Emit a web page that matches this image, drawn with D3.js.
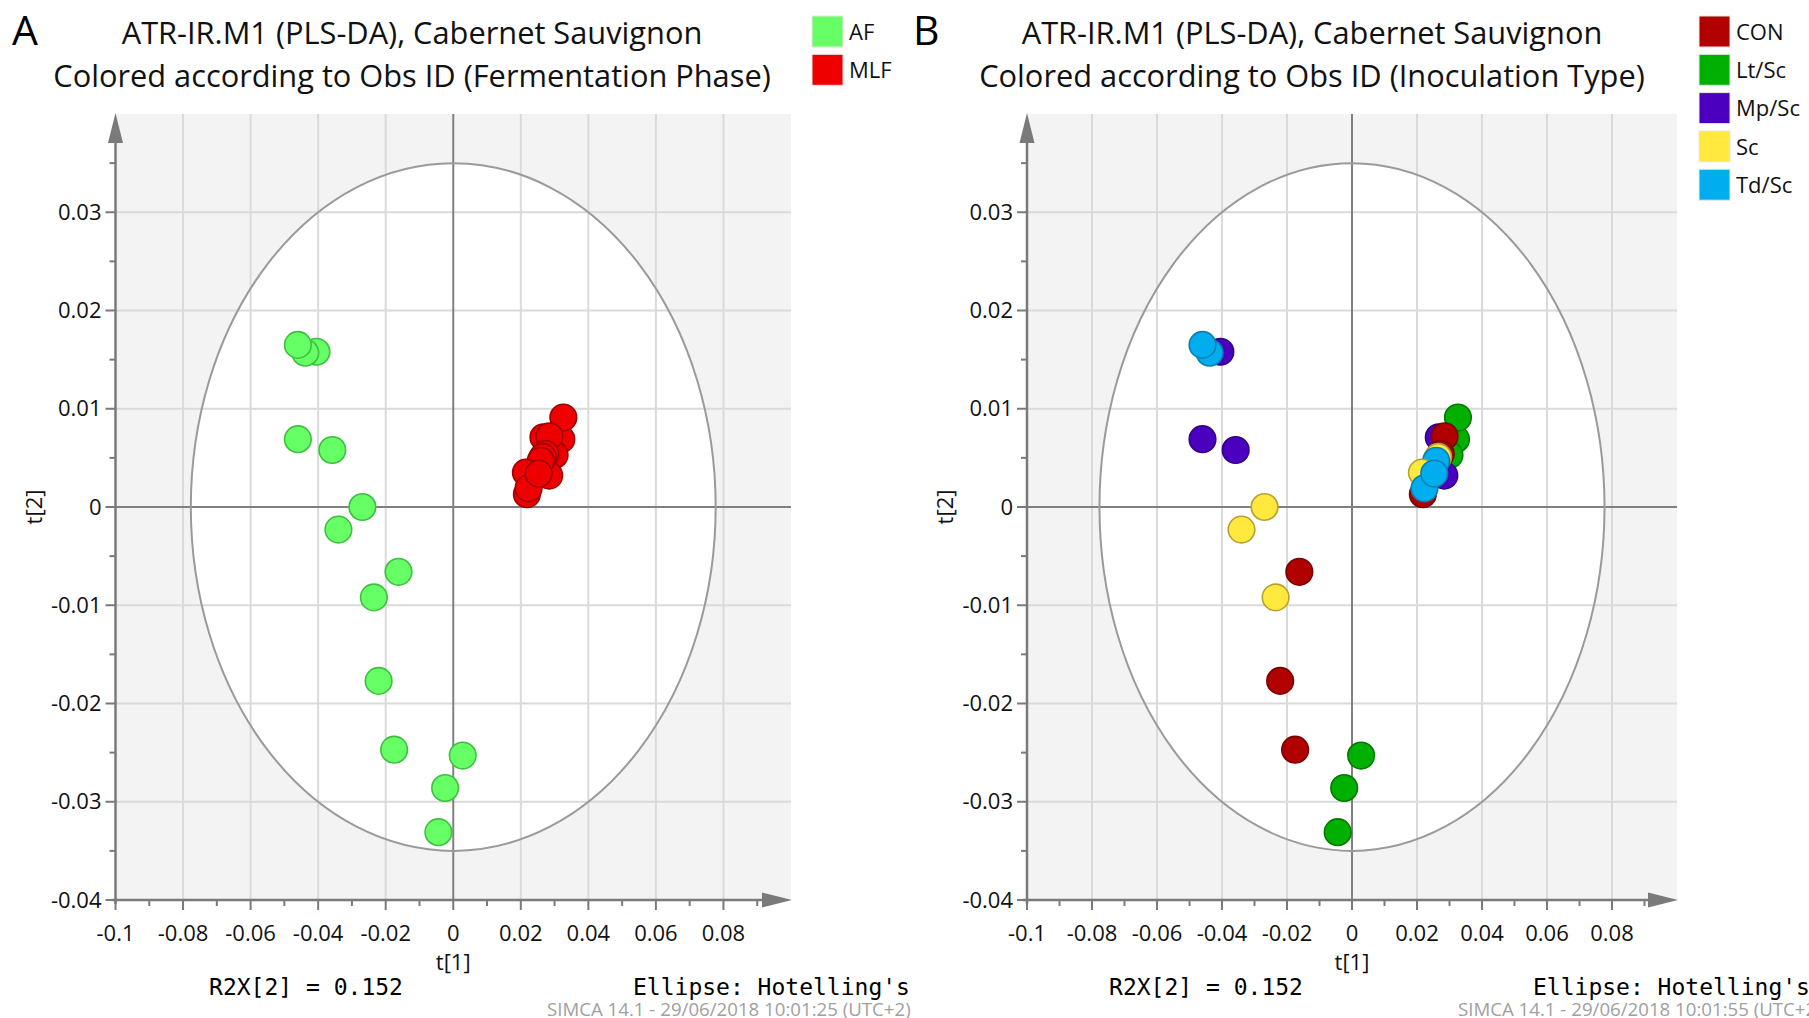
<!DOCTYPE html>
<html>
<head>
<meta charset="utf-8">
<script src="https://cdn.jsdelivr.net/npm/d3@7/dist/d3.min.js"></script>
<style>
  html, body { margin: 0; padding: 0; background: #fff; }
  svg { display: block; }
</style>
</head>
<body>
<svg id="chart" width="1809" height="1018"></svg>
<script>
// ---- data: PLS-DA scores t[1], t[2] ----
const afT1  = [-0.0405, -0.0438, -0.0460, -0.0460, -0.0358, -0.0269, -0.0340, -0.0162, -0.0235, -0.0221, -0.0175, 0.0028, -0.0024, -0.0044];
const afT2  = [ 0.0158,  0.0157,  0.0165,  0.0069,  0.0058,  0.0000, -0.0023, -0.0066, -0.0092, -0.0177, -0.0247, -0.0253, -0.0286, -0.0331];
const afInoc = ["Mp/Sc", "Td/Sc", "Td/Sc", "Mp/Sc", "Mp/Sc", "Sc", "Sc", "CON", "Sc", "CON", "CON", "Lt/Sc", "Lt/Sc", "Lt/Sc"];

const mlfT1 = [0.0267, 0.0320, 0.0326, 0.0300, 0.0285, 0.0284, 0.0273, 0.0265, 0.0259, 0.0215, 0.0218, 0.0223, 0.0253];
const mlfT2 = [0.0071, 0.0069, 0.0091, 0.0053, 0.0072, 0.0032, 0.0054, 0.0051, 0.0047, 0.0035, 0.0013, 0.0019, 0.0034];
const mlfInoc = ["Mp/Sc", "Lt/Sc", "Lt/Sc", "Lt/Sc", "CON", "Mp/Sc", "CON", "Sc", "Td/Sc", "Sc", "CON", "Td/Sc", "Td/Sc"];

const phaseNames = ["AF", "MLF"];
const phaseFill = ["#66ff66", "#ee0000"];
const phaseStroke = ["#3fbf3f", "#a00000"];

const inocNames = ["CON", "Lt/Sc", "Mp/Sc", "Sc", "Td/Sc"];
const inocFill = ["#b00000", "#00b000", "#4b00c0", "#ffe93f", "#00aeef"];
const inocStroke = ["#7a0000", "#007a00", "#33008a", "#b8a030", "#0a7fb0"];

const xTicks = [-0.1, -0.08, -0.06, -0.04, -0.02, 0, 0.02, 0.04, 0.06, 0.08];
const yTicks = [-0.04, -0.03, -0.02, -0.01, 0, 0.01, 0.02, 0.03];
const xMinor = [-0.09, -0.07, -0.05, -0.03, -0.01, 0.01, 0.03, 0.05, 0.07, 0.09];
const yMinor = [-0.035, -0.025, -0.015, -0.005, 0.005, 0.015, 0.025, 0.035];

// Hotelling's T2 (95%) ellipse semi-axes in score units
const ellipseT1 = 0.0777;
const ellipseT2 = 0.0350;

const titleLine1 = "ATR-IR.M1 (PLS-DA), Cabernet Sauvignon";
const footR2X = "R2X[2] = 0.152";
const footEllipse = "Ellipse: Hotelling's";

// ---- points combined per panel ----
const allPoints = afT1.map((v, i) => ({ t1: v, t2: afT2[i], phase: "AF", inoc: afInoc[i] }))
  .concat(mlfT1.map((v, i) => ({ t1: v, t2: mlfT2[i], phase: "MLF", inoc: mlfInoc[i] })));

const panels = [
  {
    letter: "A", key: "phase", names: phaseNames, fill: phaseFill, stroke: phaseStroke,
    subtitle: "Colored according to Obs ID (Fermentation Phase)",
    x0: 115.5, x1: 791, titleX: 412, legendX: 812, clipRight: 914,
    r2xX: 306, ellX: 633, stamp: "SIMCA 14.1 - 29/06/2018 10:01:25 (UTC+2)", stampX: 547, letterX: 12
  },
  {
    letter: "B", key: "inoc", names: inocNames, fill: inocFill, stroke: inocStroke,
    subtitle: "Colored according to Obs ID (Inoculation Type)",
    x0: 1027, x1: 1677, titleX: 1312, legendX: 1699, clipRight: 1809,
    r2xX: 1206, ellX: 1533, stamp: "SIMCA 14.1 - 29/06/2018 10:01:55 (UTC+2)", stampX: 1458, letterX: 913
  }
];

const svg = d3.select("#chart");
const FONT = "'Open Sans', 'Noto Sans', sans-serif";
const MONO = "'DejaVu Sans Mono', 'Liberation Mono', monospace";
const yTop = 114, yBot = 900;

const defs = svg.append("defs");

panels.forEach((p, pi) => {
  const x = d3.scaleLinear().domain([-0.1, 0.1]).range([p.x0, p.x1]);
  const y = d3.scaleLinear().domain([-0.04, 0.04]).range([yBot, yTop]);
  const g = svg.append("g");

  defs.append("clipPath").attr("id", "clip" + pi)
    .append("rect").attr("x", p.x0 - 120).attr("y", 0)
    .attr("width", p.clipRight - (p.x0 - 120)).attr("height", 1018);

  // plot background, white inside the ellipse
  g.append("rect").attr("x", x(-0.1)).attr("y", y(0.04))
    .attr("width", x(0.1) - x(-0.1)).attr("height", y(-0.04) - y(0.04))
    .attr("fill", "#f3f3f3");
  g.append("ellipse").attr("cx", x(0)).attr("cy", y(0))
    .attr("rx", x(ellipseT1) - x(0)).attr("ry", y(0) - y(ellipseT2))
    .attr("fill", "#ffffff");

  // grid
  g.selectAll(".vg").data(xTicks.filter(d => d !== -0.1 && d !== 0)).join("line")
    .attr("x1", d => x(d)).attr("x2", d => x(d)).attr("y1", y(0.04)).attr("y2", y(-0.04))
    .attr("stroke", "#dadada").attr("stroke-width", 2);
  g.selectAll(".hg").data(yTicks.filter(d => d !== -0.04 && d !== 0)).join("line")
    .attr("x1", x(-0.1)).attr("x2", x(0.1)).attr("y1", d => y(d)).attr("y2", d => y(d))
    .attr("stroke", "#dadada").attr("stroke-width", 2);
  // zero lines
  g.append("line").attr("x1", x(0)).attr("x2", x(0)).attr("y1", y(0.04)).attr("y2", y(-0.04))
    .attr("stroke", "#808080").attr("stroke-width", 2);
  g.append("line").attr("x1", x(-0.1)).attr("x2", x(0.1)).attr("y1", y(0)).attr("y2", y(0))
    .attr("stroke", "#808080").attr("stroke-width", 2);

  // ellipse outline
  g.append("ellipse").attr("cx", x(0)).attr("cy", y(0))
    .attr("rx", x(ellipseT1) - x(0)).attr("ry", y(0) - y(ellipseT2))
    .attr("fill", "none").attr("stroke", "#9a9a9a").attr("stroke-width", 2);

  // axes with arrow heads
  const axCol = "#7a7a7a";
  g.append("line").attr("x1", x(-0.1)).attr("x2", x(-0.1)).attr("y1", y(0.04) + 20).attr("y2", y(-0.04) + 4)
    .attr("stroke", axCol).attr("stroke-width", 2.5);
  g.append("line").attr("x1", x(-0.1) - 4).attr("x2", x(0.1) - 20).attr("y1", y(-0.04)).attr("y2", y(-0.04))
    .attr("stroke", axCol).attr("stroke-width", 2.5);
  g.append("path")
    .attr("d", `M${x(-0.1)},${y(0.04) - 1} L${x(-0.1) - 7.5},${y(0.04) + 29} L${x(-0.1) + 7.5},${y(0.04) + 29} Z`)
    .attr("fill", axCol);
  g.append("path")
    .attr("d", `M${x(0.1) + 1},${y(-0.04)} L${x(0.1) - 29},${y(-0.04) - 7.5} L${x(0.1) - 29},${y(-0.04) + 7.5} Z`)
    .attr("fill", axCol);

  // ticks
  g.selectAll(".xt").data(xTicks).join("line")
    .attr("x1", d => x(d)).attr("x2", d => x(d)).attr("y1", y(-0.04)).attr("y2", y(-0.04) + 10)
    .attr("stroke", axCol).attr("stroke-width", 2);
  g.selectAll(".xm").data(xMinor).join("line")
    .attr("x1", d => x(d)).attr("x2", d => x(d)).attr("y1", y(-0.04)).attr("y2", y(-0.04) + 6)
    .attr("stroke", axCol).attr("stroke-width", 2);
  g.selectAll(".yt").data(yTicks).join("line")
    .attr("x1", x(-0.1) - 10).attr("x2", x(-0.1)).attr("y1", d => y(d)).attr("y2", d => y(d))
    .attr("stroke", axCol).attr("stroke-width", 2);
  g.selectAll(".ym").data(yMinor).join("line")
    .attr("x1", x(-0.1) - 6).attr("x2", x(-0.1)).attr("y1", d => y(d)).attr("y2", d => y(d))
    .attr("stroke", axCol).attr("stroke-width", 2);

  const fmt = d => d === 0 ? "0" : String(+d.toFixed(3));
  g.selectAll(".xl").data(xTicks).join("text")
    .attr("x", d => x(d)).attr("y", y(-0.04) + 41)
    .attr("text-anchor", "middle").attr("font-family", FONT).attr("font-size", 22)
    .attr("fill", "#111").text(fmt);
  g.selectAll(".yl").data(yTicks).join("text")
    .attr("x", x(-0.1) - 14).attr("y", d => y(d)).attr("dy", "0.35em")
    .attr("text-anchor", "end").attr("font-family", FONT).attr("font-size", 22)
    .attr("fill", "#111").text(fmt);

  // axis titles
  g.append("text").attr("x", x(0)).attr("y", y(-0.04) + 70)
    .attr("text-anchor", "middle").attr("font-family", FONT).attr("font-size", 22)
    .attr("fill", "#111").text("t[1]");
  g.append("text")
    .attr("transform", `translate(${x(-0.1) - 74},${y(0)}) rotate(-90)`)
    .attr("text-anchor", "middle").attr("font-family", FONT).attr("font-size", 22)
    .attr("fill", "#111").text("t[2]");

  // observations
  const ci = d3.scaleOrdinal().domain(p.names).range(p.fill);
  const cs = d3.scaleOrdinal().domain(p.names).range(p.stroke);
  g.selectAll(".pt").data(allPoints).join("circle")
    .attr("cx", d => x(d.t1)).attr("cy", d => y(d.t2)).attr("r", 13.3)
    .attr("fill", d => ci(d[p.key])).attr("stroke", d => cs(d[p.key])).attr("stroke-width", 1.6);

  // titles
  g.append("text").attr("x", p.letterX).attr("y", 45)
    .attr("font-family", FONT).attr("font-size", 41).attr("fill", "#000").text(p.letter);
  const t1 = g.append("text").attr("x", p.titleX).attr("y", 44)
    .attr("text-anchor", "middle").attr("font-family", FONT).attr("font-size", 28)
    .attr("fill", "#111").text(titleLine1);
  // size the title so the first line spans its slot
  const w = t1.node().getComputedTextLength();
  const fs = 28 * 581 / w;
  t1.attr("font-size", fs);
  g.append("text").attr("x", p.titleX).attr("y", 87)
    .attr("text-anchor", "middle").attr("font-family", FONT).attr("font-size", fs)
    .attr("fill", "#111").text(p.subtitle);

  // legend
  const lg = g.append("g");
  p.names.forEach((n, i) => {
    lg.append("rect").attr("x", p.legendX).attr("y", 16 + i * 38.3).attr("width", 31).attr("height", 31)
      .attr("fill", p.fill[i]).attr("stroke", "#e8e8e8").attr("stroke-width", 1);
    lg.append("text").attr("x", p.legendX + 37).attr("y", 16 + i * 38.3 + 16).attr("dy", "0.35em")
      .attr("font-family", FONT).attr("font-size", 22).attr("fill", "#111").text(n);
  });

  // footer
  const fg = g.append("g").attr("clip-path", `url(#clip${pi})`);
  fg.append("text").attr("x", p.r2xX).attr("y", 995).attr("text-anchor", "middle")
    .attr("font-family", MONO).attr("font-size", 23).attr("fill", "#000").text(footR2X);
  fg.append("text").attr("x", p.ellX).attr("y", 995)
    .attr("font-family", MONO).attr("font-size", 23).attr("fill", "#000").text(footEllipse);
  const st = fg.append("text").attr("x", p.stampX).attr("y", 1016)
    .attr("font-family", FONT).attr("font-size", 16).attr("fill", "#a0a0a0").text(p.stamp);
  // stamp spans the lower right of each panel
  st.attr("font-size", 16 * 364 / st.node().getComputedTextLength());
});
</script>
</body>
</html>
